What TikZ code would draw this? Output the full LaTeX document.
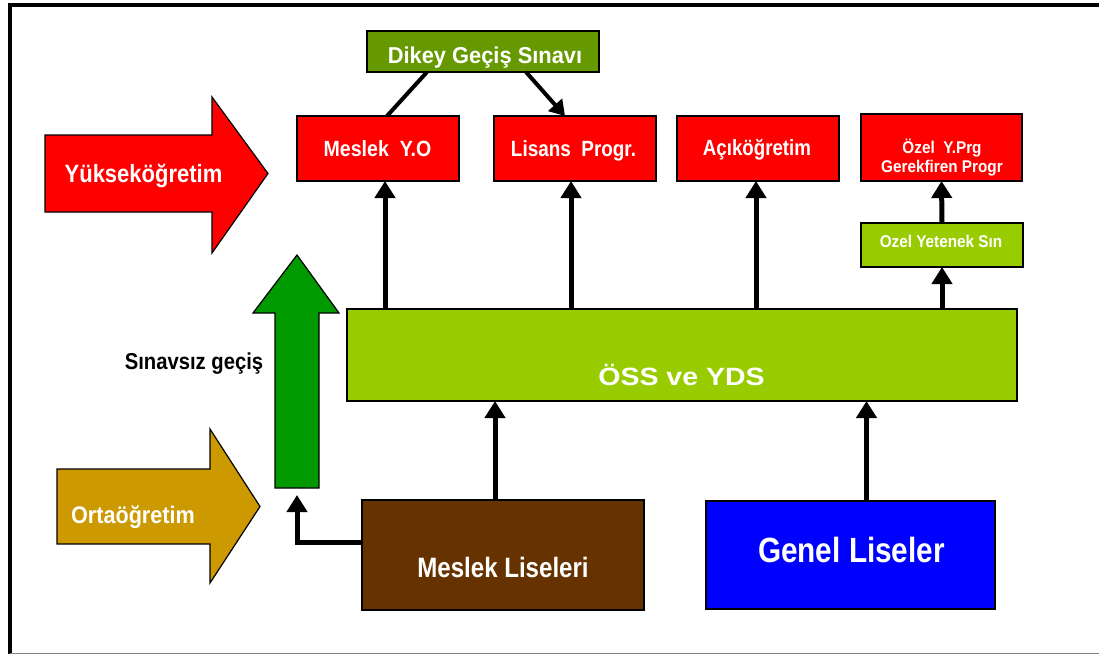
\documentclass[tikz,border=0pt]{standalone}
\usepackage{fontspec}
\usepackage{graphicx}
\setmainfont{Liberation Sans}
\usetikzlibrary{arrows.meta}
\definecolor{redbox}{HTML}{FF0000}
\definecolor{dgreen}{HTML}{669900}
\definecolor{lgreen}{HTML}{99CC00}
\definecolor{agreen}{HTML}{009900}
\definecolor{gold}{HTML}{CC9900}
\definecolor{brown}{HTML}{663300}
\definecolor{bluebox}{HTML}{0000FF}
\newcommand\mytxt[3]{\fontsize{#2}{#2}\selectfont\scalebox{#1}[1]{#3}}
\begin{document}
\begin{tikzpicture}[x=1pt,y=-1pt,
  box/.style={draw=black, line width=1.2pt, inner sep=0pt, outer sep=0pt},
  lbl/.style={text=white, font=\bfseries, inner sep=0pt, anchor=base},
  blk/.style={draw=black, line width=1.2pt, line join=miter},
  arr/.style={line width=5pt, -{Triangle[width=20pt,length=17pt]}},
  lin/.style={line width=4pt},
  ]
\useasboundingbox (0,0) rectangle (1099,654);
% frame
\draw[line width=4pt] (10,654) -- (10,5) -- (1099,5);
\draw[line width=1pt, gray] (10,653) -- (1099,653);

% boxes
\node[box, fill=dgreen, minimum width=232pt, minimum height=41pt] (dgs) at (483,51.5) {};
\node[box, fill=redbox, minimum width=162pt, minimum height=65pt] (myo) at (378,148.5) {};
\node[box, fill=redbox, minimum width=162pt, minimum height=65pt] (lis) at (575,148.5) {};
\node[box, fill=redbox, minimum width=162pt, minimum height=65pt] (acik) at (758,148.5) {};
\node[box, fill=redbox, minimum width=161pt, minimum height=67pt] (ozp) at (941.5,147.5) {};
\node[box, fill=lgreen, minimum width=162pt, minimum height=44pt] (oys) at (942,245) {};
\node[box, fill=lgreen, minimum width=670pt, minimum height=92pt] (oss) at (682,355) {};
\node[box, fill=brown, minimum width=282pt, minimum height=110pt] (ml) at (503,555) {};
\node[box, fill=bluebox, minimum width=289pt, minimum height=108pt] (gl) at (850.5,555) {};

% block arrows
\draw[blk, fill=redbox] (45,135) -- (212,135) -- (212,97) -- (268,173.5) -- (212,253) -- (212,212) -- (45,212) -- cycle;
\draw[blk, fill=gold] (57,469) -- (210,469) -- (210,429) -- (260,506.5) -- (210,583) -- (210,544) -- (57,544) -- cycle;
\draw[blk, fill=agreen] (275,488) -- (275,313) -- (253,313) -- (297,255) -- (339,313) -- (319,313) -- (319,488) -- cycle;
\coordinate (gbot) at (297,488);

% texts
\node[lbl] (tdgs) at (485,63) {\mytxt{0.95}{23}{Dikey Geçiş Sınavı}};
\node[lbl] (tmyo) at (377.5,156) {\mytxt{0.89}{22}{Meslek\ \ Y.O}};
\node[lbl] (tlis) at (573.5,156) {\mytxt{0.86}{22}{Lisans\ \ Progr.}};
\node[lbl] (tacik) at (757,155) {\mytxt{0.85}{22}{Açıköğretim}};
\node[lbl] (tozp1) at (942,153) {\mytxt{0.9}{17}{Özel\ \ Y.Prg}};
\node[lbl] (tozp2) at (942,172) {\mytxt{0.9}{17}{Gerekfiren Progr}};
\node[lbl] (toys) at (941,247) {\mytxt{0.9}{17}{Ozel Yetenek Sın}};
\node[lbl] (toss) at (681.5,385) {\mytxt{1.14}{25}{ÖSS ve YDS}};
\node[lbl] (tyuk) at (143.5,182) {\mytxt{0.88}{25}{Yükseköğretim}};
\node[lbl, text=black] (tsin) at (194,369) {\mytxt{0.88}{23}{Sınavsız geçiş}};
\node[lbl] (torta) at (133,523) {\mytxt{0.9}{24}{Ortaöğretim}};
\node[lbl] (tgl) at (851.5,562) {\mytxt{0.85}{35}{Genel Liseler}};
\node[lbl] (tml) at (503,577) {\mytxt{0.86}{28}{Meslek Liseleri}};

% connectors
\coordinate (a1) at ([xshift=7pt]myo.south);
\coordinate (a2) at ([xshift=-4pt]lis.south);
\coordinate (a3) at ([xshift=-2pt]acik.south);
\coordinate (a4) at (oys.south);
\coordinate (b1) at ([xshift=-8pt]ml.north);
\coordinate (b2) at ([xshift=16pt]gl.north);
\draw[arr] (a1 |- oss.north) -- (a1);
\draw[arr] (a2 |- oss.north) -- (a2);
\draw[arr] (a3 |- oss.north) -- (a3);
\draw[arr] (a4 |- oss.north) -- (a4);
\draw[arr] (oys.north) -- (ozp.south);
\draw[arr] (b1) -- (b1 |- oss.south);
\draw[arr] (b2) -- (b2 |- oss.south);
\draw[arr, line join=miter] ([yshift=13pt]ml.west) -| ([yshift=-7pt]gbot);
\draw[lin] ([xshift=-56pt]dgs.south) -- ([xshift=9pt]myo.north);
\draw[lin, -{Triangle[width=18pt,length=15pt]}] ([xshift=43pt]dgs.south) -- ([xshift=-10pt]lis.north);
\end{tikzpicture}
\end{document}
